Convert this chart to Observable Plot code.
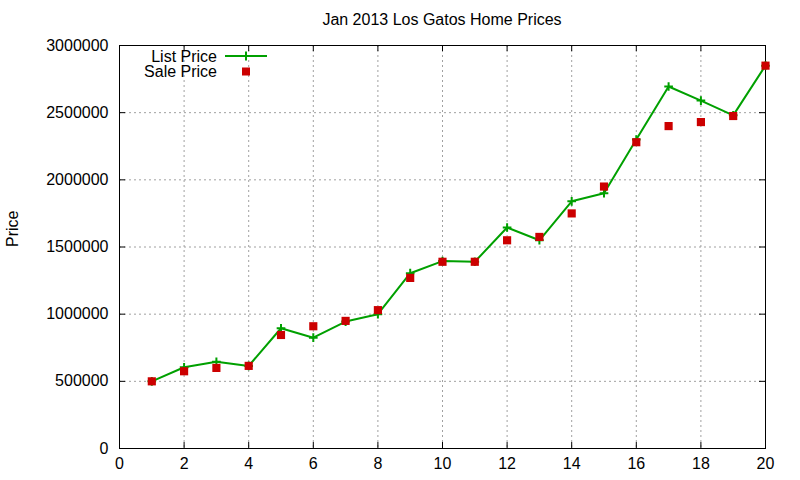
<!DOCTYPE html>
<html>
<head>
<meta charset="utf-8">
<script src="https://cdn.jsdelivr.net/npm/d3@7"></script>
<script src="https://cdn.jsdelivr.net/npm/@observablehq/plot@0.6"></script>
<style>
  html, body { margin: 0; padding: 0; background: #fff; }
  #wrap { position: relative; width: 800px; height: 480px; font-family: "Liberation Sans", Arial, sans-serif; }
  #title { position: absolute; left: 119px; width: 646px; top: 10px; text-align: center; font-size: 16px; line-height: 19px; color: #000; }
  #legend { position: absolute; left: 0; top: 0; pointer-events: none; }
</style>
</head>
<body>
<div id="wrap">
  <div id="title">Jan 2013 Los Gatos Home Prices</div>
</div>
<script>
const months = [1, 2, 3, 4, 5, 6, 7, 8, 9, 10, 11, 12, 13, 14, 15, 16, 17, 18, 19, 20];
const listPrice = [500000, 605000, 645000, 615000, 895000, 825000, 945000, 1000000, 1305000, 1395000, 1390000, 1645000, 1550000, 1840000, 1900000, 2300000, 2695000, 2590000, 2480000, 2850000];
const salePrice = [500000, 575000, 600000, 615000, 845000, 910000, 950000, 1030000, 1270000, 1390000, 1390000, 1550000, 1575000, 1750000, 1950000, 2280000, 2400000, 2430000, 2475000, 2850000];
const xTicks = [0, 2, 4, 6, 8, 10, 12, 14, 16, 18, 20];
const yTicks = [0, 500000, 1000000, 1500000, 2000000, 2500000, 3000000];
const seriesNames = ["List Price", "Sale Price"];

const data = months.map((m, i) => ({x: m, list: listPrice[i], sale: salePrice[i]}));

const W = 800, H = 480, mL = 119, mR = 35, mT = 45, mB = 32;
const iw = W - mL - mR, ih = H - mT - mB, tk = 6;
const green = "#00a000", red = "#cc0000", gridColor = "#a0a0a0";

const chart = Plot.plot({
  width: W, height: H,
  marginLeft: mL, marginRight: mR, marginTop: mT, marginBottom: mB,
  style: {fontFamily: "'Liberation Sans', Arial, sans-serif", fontSize: "16px", color: "#000", background: "#fff"},
  x: {domain: [0, 20]},
  y: {domain: [0, 3000000]},
  marks: [
    Plot.gridX(xTicks, {stroke: gridColor, strokeOpacity: 1, strokeDasharray: "2,3"}),
    Plot.gridY(yTicks, {stroke: gridColor, strokeOpacity: 1, strokeDasharray: "2,3"}),
    Plot.frame({stroke: "#000", strokeWidth: 1}),
    Plot.tickY(yTicks, {y: d => d, stroke: "#000", insetRight: iw - tk}),
    Plot.tickY(yTicks, {y: d => d, stroke: "#000", insetLeft: iw - tk}),
    Plot.tickX(xTicks, {x: d => d, stroke: "#000", insetTop: ih - tk}),
    Plot.tickX(xTicks, {x: d => d, stroke: "#000", insetBottom: ih - tk}),
    Plot.axisX({ticks: xTicks, tickSize: 0, tickPadding: 9, label: null, tickFormat: d => String(d), fontSize: 16}),
    Plot.axisY({ticks: yTicks, tickSize: 0, tickPadding: 11, label: null, tickFormat: d => String(d), fontSize: 16}),
    Plot.text(["Price"], {frameAnchor: "left", dx: -107, rotate: -90, fontSize: 16, fill: "#000"}),
    Plot.line(data, {x: "x", y: "list", stroke: green, strokeWidth: 2}),
    Plot.dot(data, {x: "x", y: "list", symbol: "plus", r: 2.9, stroke: green, strokeWidth: 2}),
    Plot.dot(data, {x: "x", y: "sale", symbol: "square", r: 4.6, fill: red, stroke: "none"})
  ]
});
const wrap = document.getElementById("wrap");
wrap.insertBefore(chart, wrap.firstChild);

// legend overlay
const ns = "http://www.w3.org/2000/svg";
const lg = document.createElementNS(ns, "svg");
lg.setAttribute("id", "legend");
lg.setAttribute("width", W);
lg.setAttribute("height", 100);
const rows = [{y: 56, name: seriesNames[0]}, {y: 71.5, name: seriesNames[1]}];
rows.forEach((r, i) => {
  const t = document.createElementNS(ns, "text");
  t.setAttribute("x", 217);
  t.setAttribute("y", r.y);
  t.setAttribute("dy", "0.35em");
  t.setAttribute("text-anchor", "end");
  t.setAttribute("font-family", "'Liberation Sans', Arial, sans-serif");
  t.setAttribute("font-size", "16");
  t.textContent = r.name;
  lg.appendChild(t);
  if (i === 0) {
    const l = document.createElementNS(ns, "path");
    l.setAttribute("d", `M225,${r.y}H267M246,${r.y - 4.5}V${r.y + 4.5}`);
    l.setAttribute("stroke", green);
    l.setAttribute("stroke-width", 2);
    l.setAttribute("fill", "none");
    lg.appendChild(l);
  } else {
    const s = document.createElementNS(ns, "rect");
    s.setAttribute("x", 242);
    s.setAttribute("y", r.y - 4);
    s.setAttribute("width", 8);
    s.setAttribute("height", 8);
    s.setAttribute("fill", red);
    lg.appendChild(s);
  }
});
wrap.appendChild(lg);
</script>
</body>
</html>
